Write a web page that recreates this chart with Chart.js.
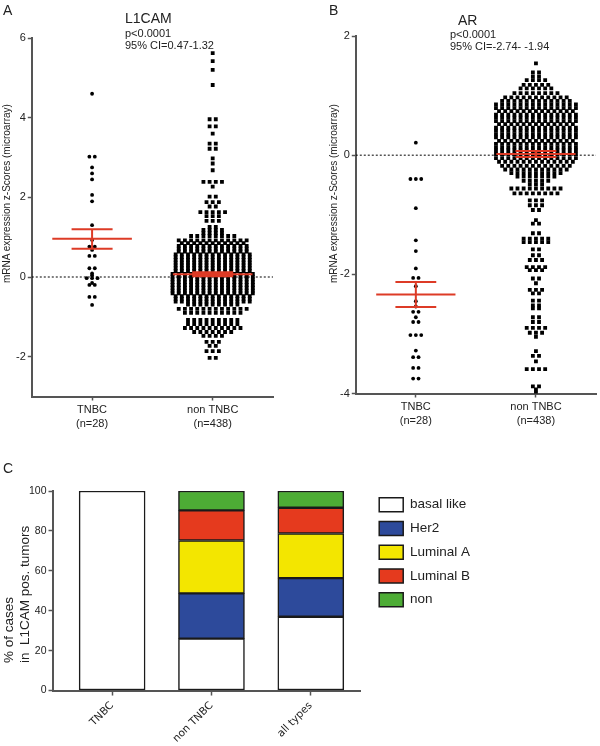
<!DOCTYPE html>
<html>
<head>
<meta charset="utf-8">
<script src="https://cdn.jsdelivr.net/npm/chart.js@4.4.1/dist/chart.umd.min.js"></script>
<style>
  body { margin: 0; background: #fff; }
  #fig { position: relative; width: 600px; height: 746px; font-family: "Liberation Sans", Arial, sans-serif; color: #222; overflow: hidden; }
  #fig canvas { position: absolute; }
  .lbl { position: absolute; line-height: 1; white-space: pre; }
  .ytitle { position: absolute; white-space: pre; transform-origin: 0 0; transform: rotate(-90deg); }
</style>
</head>
<body>
<div id="fig">
  <canvas id="chartA" width="280" height="440" style="left:0;top:0"></canvas>
  <canvas id="chartB" width="300" height="440" style="left:300px;top:0"></canvas>
  <canvas id="chartC" width="600" height="296" style="left:0;top:456px"></canvas>

  <div class="lbl" style="left:3px;top:3px;font-size:14px">A</div>
  <div class="lbl" style="left:125px;top:11px;font-size:14px">L1CAM</div>
  <div class="lbl" style="left:125px;top:28px;font-size:11px">p&lt;0.0001</div>
  <div class="lbl" style="left:125px;top:40px;font-size:11px">95% CI=0.47-1.32</div>
  <div class="ytitle" style="left:1px;top:283px;font-size:10px;line-height:12px">mRNA expression z-Scores (microarray)</div>

  <div class="lbl" style="left:329px;top:3px;font-size:14px">B</div>
  <div class="lbl" style="left:458px;top:13px;font-size:14px">AR</div>
  <div class="lbl" style="left:450px;top:28.5px;font-size:11px">p&lt;0.0001</div>
  <div class="lbl" style="left:450px;top:40.5px;font-size:11px">95% CI=-2.74- -1.94</div>
  <div class="ytitle" style="left:328px;top:283px;font-size:10px;line-height:12px">mRNA expression z-Scores (microarray)</div>

  <div class="lbl" style="left:3px;top:461px;font-size:14px">C</div>
  <div class="ytitle" style="left:1px;top:663px;font-size:13.5px;line-height:16px">% of cases
in  L1CAM pos. tumors</div>
</div>

<script>
const categories = ['TNBC', 'non TNBC'];
const groupSizes = ['(n=28)', '(n=438)'];

// A - L1CAM. each swarm row: z-score and number of tumours in that row
const l1camTnbcLevels = [4.6, 3.02, 2.75, 2.6, 2.45, 2.06, 1.9, 1.3, 0.93, 0.76, 0.68, 0.53, 0.22, 0.09, 0.04, -0.03, -0.15, -0.2, -0.5, -0.7];
const l1camTnbcCounts = [1, 2, 1, 1, 1, 1, 1, 1, 1, 2, 1, 2, 2, 1, 1, 3, 1, 2, 2, 1];
const l1camNonLevels = [5.62, 5.42, 5.2, 4.82, 3.96, 3.78, 3.6, 3.35, 3.22, 2.98, 2.85, 2.68, 2.39, 2.27, 2.02, 1.88, 1.77, 1.63, 1.53, 1.41, 1.26, 1.18, 1.1, 1.03,
  0.92, 0.85, 0.78, 0.71, 0.64, 0.57, 0.5, 0.43, 0.36, 0.29, 0.22, 0.15, 0.08, 0.01, -0.06, -0.13, -0.2, -0.27, -0.34, -0.41, -0.48, -0.55, -0.62, -0.69,
  -0.8, -0.9, -1.08, -1.18, -1.28, -1.38, -1.48, -1.63, -1.73, -1.86, -2.03];
const l1camNonCounts = [1, 1, 1, 1, 2, 2, 1, 2, 2, 1, 1, 1, 4, 1, 2, 3, 2, 5, 3, 3, 2, 4, 4, 8,
  12, 11, 12, 12, 12, 13, 13, 13, 13, 13, 13, 13, 14, 14, 14, 14, 14, 14, 14, 14, 13, 13, 13, 9,
  12, 10, 9, 9, 10, 7, 4, 3, 2, 3, 2];
const l1camMean = [0.96, 0.07];
const l1camSemHigh = [1.2, 0.12];
const l1camSemLow = [0.71, 0.02];

// B - AR
const arTnbcLevels = [0.21, -0.4, -0.89, -1.43, -1.61, -1.9, -2.06, -2.2, -2.45, -2.54, -2.63, -2.72, -2.8, -3.02, -3.28, -3.39, -3.57, -3.75];
const arTnbcCounts = [1, 3, 1, 1, 1, 1, 2, 1, 1, 1, 2, 1, 2, 3, 1, 2, 2, 2];
const arNonLevels = [1.54, 1.39, 1.32, 1.26, 1.18, 1.12, 1.04, 0.97, 0.91,
  0.85, 0.79, 0.74, 0.68, 0.63, 0.57, 0.52, 0.46, 0.41, 0.35, 0.3, 0.24, 0.19, 0.13, 0.08, 0.02,
  -0.05, -0.11, -0.18, -0.24, -0.3, -0.36, -0.43, -0.49,
  -0.56, -0.64, -0.76, -0.84, -0.92, -1.09, -1.15, -1.31, -1.4, -1.46, -1.58, -1.68, -1.76, -1.88, -1.93, -2.07, -2.15,
  -2.26, -2.32, -2.44, -2.52, -2.57, -2.72, -2.8, -2.9, -2.98, -3.05, -3.29, -3.37, -3.46, -3.59, -3.88, -3.93, -3.99];
const arNonCounts = [1, 2, 2, 4, 5, 6, 8, 11, 12,
  14, 14, 13, 14, 14, 14, 13, 14, 14, 14, 14, 13, 14, 14, 14, 14,
  14, 13, 12, 11, 9, 7, 5, 3,
  9, 8, 3, 3, 2, 1, 2, 2, 5, 5, 2, 2, 3, 4, 3, 2, 1,
  3, 2, 2, 2, 2, 2, 2, 4, 3, 1, 1, 2, 1, 4, 2, 1, 1];
const arMean = [-2.34, 0.02];
const arSemHigh = [-2.13, 0.07];
const arSemLow = [-2.55, -0.03];

// C - subtypes among L1CAM positive tumours (% of cases)
const typeCategories = ['TNBC', 'non TNBC', 'all types'];
const subtypes = ['basal like', 'Her2', 'Luminal A', 'Luminal B', 'non'];
const basalLike = [100, 26, 37];
const her2 = [0, 22.7, 19.3];
const luminalA = [0, 26.5, 22.4];
const luminalB = [0, 15.1, 12.9];
const nonType = [0, 9.7, 8.4];

Chart.defaults.font.family = '"Liberation Sans", Arial, sans-serif';
Chart.defaults.color = '#222';

const RED = '#dd3b26';
const AXIS = '#555';

// spread the dots of one row side by side around the group centre
function swarm(levels, counts, xc, step) {
  const pts = [];
  levels.forEach((v, i) => {
    const n = counts[i];
    for (let k = 0; k < n; k++) {
      pts.push({ x: xc + (k - (n - 1) / 2) * step, y: v });
    }
  });
  return pts;
}

function meanBars(xc, mean, hi, lo) {
  return [
    { x: xc - 0.33, y: mean }, { x: xc + 0.33, y: mean }, { x: xc, y: null },
    { x: xc - 0.17, y: hi }, { x: xc + 0.17, y: hi }, { x: xc, y: null },
    { x: xc, y: hi }, { x: xc, y: lo }, { x: xc, y: null },
    { x: xc - 0.17, y: lo }, { x: xc + 0.17, y: lo }
  ];
}

function swarmChart(id, s) {
  const lineSet = data => ({
    type: 'line', data, borderColor: RED, borderWidth: 2, pointRadius: 0, spanGaps: false
  });
  return new Chart(document.getElementById(id), {
    type: 'scatter',
    data: {
      datasets: [
        lineSet(meanBars(1, s.mean[0], s.hi[0], s.lo[0])),
        lineSet(meanBars(2, s.mean[1], s.hi[1], s.lo[1])),
        { data: swarm(s.tnbcLevels, s.tnbcCounts, 1, 0.045), pointStyle: 'circle', pointRadius: 1.9,
          backgroundColor: '#000', borderWidth: 0 },
        { data: swarm(s.nonLevels, s.nonCounts, 2, 0.0512), pointStyle: 'rect', pointRadius: 2.7,
          backgroundColor: '#000', borderWidth: 0 },
        { type: 'line', data: [{ x: 0.5, y: 0 }, { x: 2.5, y: 0 }], borderColor: '#000', borderWidth: 1,
          borderDash: [2, 2], pointRadius: 0 }
      ]
    },
    options: {
      responsive: false,
      animation: false,
      layout: { padding: s.padding },
      plugins: { legend: { display: false }, tooltip: { enabled: false } },
      scales: {
        x: {
          type: 'linear', min: 0.5, max: 2.5,
          afterBuildTicks: sc => { sc.ticks = [{ value: 1 }, { value: 2 }]; },
          ticks: {
            callback: v => [categories[Math.round(v) - 1], groupSizes[Math.round(v) - 1]],
            font: { size: 11, lineHeight: 1.25 }, maxRotation: 0, padding: 3
          },
          grid: { drawOnChartArea: false, tickLength: 4, tickColor: AXIS, tickWidth: 1.5 },
          border: { color: AXIS, width: 2 }
        },
        y: {
          min: s.yMin, max: s.yMax,
          afterBuildTicks: sc => { sc.ticks = s.yTicks.map(v => ({ value: v })); },
          ticks: { font: { size: 11 }, padding: 2 },
          grid: { drawOnChartArea: false, tickLength: 4, tickColor: AXIS, tickWidth: 1.5 },
          border: { color: AXIS, width: 2 }
        }
      }
    }
  });
}

swarmChart('chartA', {
  tnbcLevels: l1camTnbcLevels, tnbcCounts: l1camTnbcCounts,
  nonLevels: l1camNonLevels, nonCounts: l1camNonCounts,
  mean: l1camMean, hi: l1camSemHigh, lo: l1camSemLow,
  yMin: -3, yMax: 6, yTicks: [-2, 0, 2, 4, 6],
  padding: { top: 38, left: 14, right: 7, bottom: 6 }
});

swarmChart('chartB', {
  tnbcLevels: arTnbcLevels, tnbcCounts: arTnbcCounts,
  nonLevels: arNonLevels, nonCounts: arNonCounts,
  mean: arMean, hi: arSemHigh, lo: arSemLow,
  yMin: -4, yMax: 2, yTicks: [-4, -2, 0, 2],
  padding: { top: 36, left: 38, right: 0, bottom: 9 }
});

const subtypeValues = [basalLike, her2, luminalA, luminalB, nonType];
const subtypeColors = ['#ffffff', '#2d4a9b', '#f3e600', '#e53a1e', '#4dac35'];

// legend sits a bit away from the plot, as in the figure
const legendNudge = {
  id: 'legendNudge',
  afterLayout(chart) {
    const lg = chart.legend;
    lg.left += 9; lg.right += 9;
    lg.top -= 3; lg.bottom -= 3;
  }
};

new Chart(document.getElementById('chartC'), {
  type: 'bar',
  data: {
    datasets: subtypes.map((name, i) => ({
      label: name,
      data: subtypeValues[i].map((v, j) => ({ x: j + 1, y: v })),
      backgroundColor: subtypeColors[i],
      borderColor: '#1a1a1a',
      borderWidth: 1.5,
      borderSkipped: false,
      barThickness: 66
    }))
  },
  options: {
    responsive: false,
    animation: false,
    layout: { padding: { top: 35, left: 27, right: 129, bottom: 3 } },
    plugins: {
      tooltip: { enabled: false },
      legend: {
        position: 'right', align: 'start',
        labels: { boxWidth: 24, boxHeight: 14, padding: 9.75, font: { size: 13.5 }, color: '#222' }
      }
    },
    scales: {
      x: {
        type: 'linear', stacked: true, min: 0.4, max: 3.5, offset: false,
        afterBuildTicks: sc => { sc.ticks = [{ value: 1 }, { value: 2 }, { value: 3 }]; },
        ticks: {
          callback: v => typeCategories[Math.round(v) - 1],
          minRotation: 45, maxRotation: 45, font: { size: 10.5, family: '"DejaVu Sans", Verdana, sans-serif' }, padding: 4
        },
        grid: { offset: false, drawOnChartArea: false, tickLength: 5, tickColor: AXIS, tickWidth: 1.5 },
        border: { color: AXIS, width: 2 }
      },
      y: {
        stacked: true, min: 0, max: 100,
        ticks: { stepSize: 20, font: { size: 10.5 }, padding: 2 },
        grid: { drawOnChartArea: false, tickLength: 4, tickColor: AXIS, tickWidth: 1.5 },
        border: { color: AXIS, width: 2 }
      }
    }
  },
  plugins: [legendNudge]
});
</script>
</body>
</html>
